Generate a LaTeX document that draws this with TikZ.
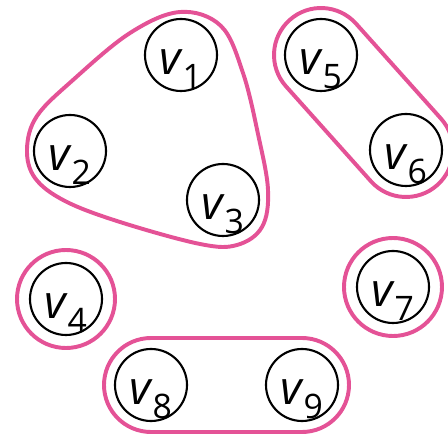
\documentclass[tikz,border=0pt]{standalone}
\usepackage{fontspec}
\setmainfont{Open Sans}
\usetikzlibrary{calc}
\definecolor{hedgepink}{RGB}{228,82,150}
% vertex label: italic v with a large lowered index
\newcommand{\vlab}[1]{\fontsize{33}{33}\selectfont\itshape v\upshape\hspace{1pt}\raisebox{-10.5pt}{\fontsize{24}{24}\selectfont #1}}

\begin{document}
\begin{tikzpicture}[x=0.025cm, y=0.025cm, line cap=round, line join=round,
    vertex/.style={circle, draw, line width=1.5pt, minimum size=1.8cm, inner sep=0pt,
      text height=0.95cm, text depth=0pt},
    hedge/.style={draw=hedgepink, line width=2.8pt}]

  \useasboundingbox (0,0) rectangle (448,434);

  % Vertices
  \node[vertex] (v1) at (181,379) {\vlab{1}};
  \node[vertex] (v2) at (70,283) {\vlab{2}};
  \node[vertex] (v3) at (223,234) {\vlab{3}};
  \node[vertex] (v4) at (66,135) {\vlab{4}};
  \node[vertex] (v5) at (321,379) {\vlab{5}};
  \node[vertex] (v6) at (406,284) {\vlab{6}};
  \node[vertex] (v7) at (393,147) {\vlab{7}};
  \node[vertex] (v8) at (151,49) {\vlab{8}};
  \node[vertex] (v9) at (302,49) {\vlab{9}};

  % Hyperedges
  % {v1, v2, v3}: rounded blob
  \draw[hedge] plot[smooth cycle, tension=0.6] coordinates {
    (180,422) (221,408) (243,361) (258,300) (268,244) (262,207) (237,189)
    (200,190) (120,212) (65,233) (35,256) (27,285) (37,318) (73,354) (130,401)};
  % {v5, v6}
  \draw[hedge] ($(v5)+(41.8:47)$) arc[start angle=41.8, end angle=221.8, radius=47]
    -- ($(v6)+(221.8:47)$) arc[start angle=221.8, end angle=401.8, radius=47] -- cycle;
  % {v8, v9}
  \draw[hedge] ($(v9)+(-90:47)$) arc[start angle=-90, end angle=90, radius=47]
    -- ($(v8)+(90:47)$) arc[start angle=90, end angle=270, radius=47] -- cycle;
  % {v4}, {v7}
  \draw[hedge] (v4.center) circle[radius=49];
  \draw[hedge] (v7.center) circle[radius=49];

\end{tikzpicture}
\end{document}
